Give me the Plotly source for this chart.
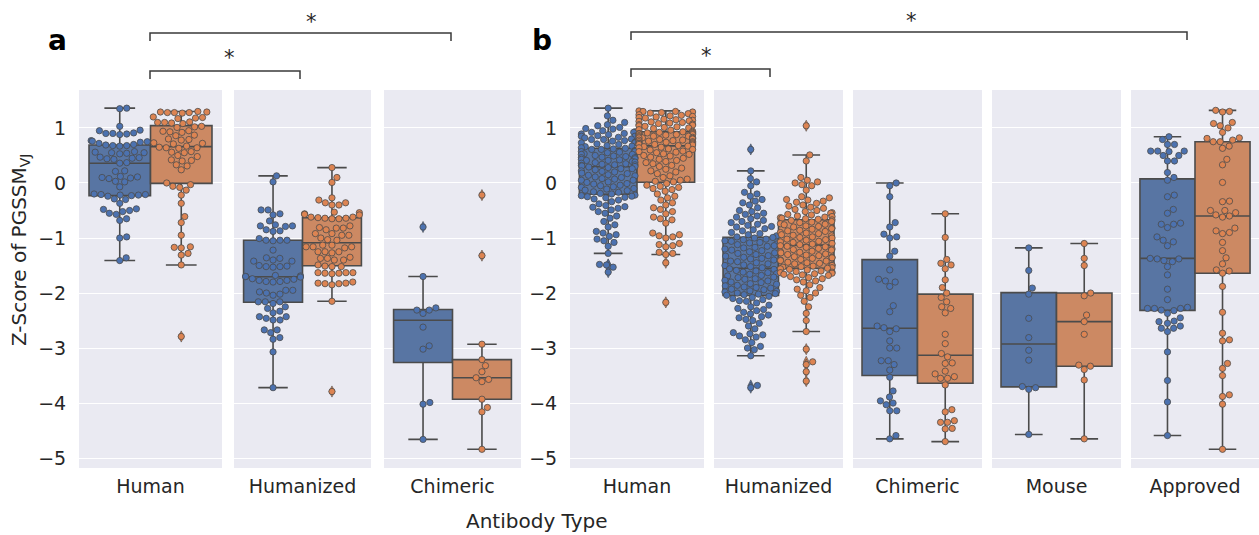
import numpy as np
import plotly.graph_objects as go

# ---------------- data ----------------
types_a = ["Human", "Humanized", "Chimeric"]
types_b = ["Human", "Humanized", "Chimeric", "Mouse", "Approved"]
y_ticks = [-5, -4, -3, -2, -1, 0, 1]
y_ticktext = ["\u22125", "\u22124", "\u22123", "\u22122", "\u22121", "0", "1"]

a_human_1 = [1.36, 1.35, 1.03, 0.96, 0.95, 0.91, 0.90, 0.90, 0.89, 0.88, 0.77, 0.76, 0.75, 0.74, 0.72,
             0.70, 0.69, 0.68, 0.68, 0.67, 0.57, 0.56, 0.55, 0.54, 0.53, 0.55, 0.46, 0.45, 0.44, 0.43,
             0.47, 0.37, 0.36, 0.22, 0.21, 0.12, 0.10, 0.09, 0.08, 0.11, 0.03, 0.02, -0.07, -0.20, -0.21,
             -0.22, -0.23, -0.24, -0.21, -0.29, -0.30, -0.37, -0.22, -0.47, -0.50, -0.52, -0.48, -0.55,
             -0.57, -0.65, -0.68, -0.98, -1.00, -1.36, -1.41]
a_human_2 = [1.29, 1.28, 1.28, 1.27, 1.28, 1.29, 1.30, 1.20, 1.19, 1.18, 1.17, 1.10, 1.11, 1.09, 1.10,
             1.08, 1.03, 1.02, 1.01, 0.95, 0.94, 0.93, 0.92, 0.87, 0.86, 0.80, 0.79, 0.78, 0.73, 0.72,
             0.71, 0.67, 0.65, 0.64, 0.63, 0.64, 0.57, 0.56, 0.55, 0.50, 0.48, 0.42, 0.41, 0.40, 0.33,
             0.31, 0.24, 0.00, -0.03, -0.06, -0.08, -0.13, -0.22, -0.37, -0.61, -0.72, -0.95, -1.16,
             -1.17, -1.18, -1.28, -1.31, -1.49, -2.79]
a_humanized_1 = [0.13, 0.02, -0.49, -0.49, -0.56, -0.58, -0.69, -0.76, -0.78, -0.78, -0.79, -0.85, -0.87,
                 -0.88, -1.01, -1.04, -1.04, -1.04, -1.05, -1.22, -1.36, -1.37, -1.40, -1.42, -1.42, -1.50,
                 -1.51, -1.52, -1.52, -1.53, -1.68, -1.69, -1.70, -1.70, -1.71, -1.74, -1.75, -1.77, -1.77,
                 -1.79, -1.79, -1.80, -1.95, -1.95, -1.98, -2.00, -2.02, -2.04, -2.16, -2.16, -2.16, -2.19,
                 -2.25, -2.28, -2.33, -2.36, -2.43, -2.43, -2.46, -2.49, -2.49, -2.67, -2.67, -2.72, -2.81,
                 -2.84, -3.07, -3.72]
a_humanized_2 = [0.28, 0.10, 0.01, -0.27, -0.31, -0.36, -0.36, -0.40, -0.40, -0.53, -0.54, -0.56, -0.57,
                 -0.62, -0.62, -0.64, -0.64, -0.65, -0.65, -0.63, -0.58, -0.81, -0.82, -0.85, -0.82, -0.78,
                 -0.92, -0.92, -0.95, -0.95, -1.04, -1.03, -1.00, -1.13, -1.16, -1.16, -1.18, -1.16, -1.13,
                 -1.25, -1.27, -1.25, -1.25, -1.37, -1.37, -1.40, -1.40, -1.35, -1.51, -1.52, -1.52, -1.49,
                 -1.63, -1.64, -1.65, -1.63, -1.64, -1.63, -1.80, -1.83, -1.85, -1.83, -1.82, -1.82, -2.15,
                 -3.79]
a_chimeric_1 = [-0.80, -1.70, -2.27, -2.31, -2.31, -2.37, -2.62, -2.96, -3.02, -3.99, -4.02, -4.66]
a_chimeric_2 = [-0.22, -1.32, -2.93, -3.21, -3.32, -3.43, -3.54, -3.57, -3.61, -3.93, -4.08, -4.16, -4.84]

b_human_1 = [1.36, 1.22, 1.14, 1.10, 1.06, 1.04, 1.01, 0.99, 0.98, 0.95, 0.93, 0.92, 0.92, 0.90, 0.89,
             0.88, 0.86, 0.85, 0.85, 0.83, 0.82, 0.80, 0.79, 0.79, 0.77, 0.76, 0.74, 0.73, 0.73, 0.71,
             0.70, 0.68, 0.67, 0.66, 0.64,
             0.63, 0.62, 0.61, 0.61, 0.59, 0.58, 0.57, 0.57, 0.56, 0.55, 0.53, 0.52, 0.52, 0.50, 0.49,
             0.48, 0.47, 0.46, 0.46, 0.44, 0.43, 0.42, 0.41, 0.41, 0.39, 0.38, 0.37, 0.36, 0.35, 0.34,
             0.33, 0.33, 0.32, 0.31, 0.30,
             0.29, 0.28, 0.26, 0.26, 0.24, 0.22, 0.21, 0.20, 0.18, 0.17, 0.15, 0.14, 0.13, 0.11, 0.10,
             0.08, 0.07, 0.05, 0.05, 0.02, 0.01, -0.01, -0.02, -0.04, -0.05, -0.07, -0.08, -0.10, -0.11,
             -0.13, -0.14, -0.16, -0.17, -0.19, -0.20,
             -0.22, -0.23, -0.24, -0.25, -0.26, -0.27, -0.29, -0.31, -0.34, -0.38, -0.41, -0.43, -0.44,
             -0.46, -0.49, -0.52, -0.55, -0.60, -0.64, -0.70, -0.76, -0.80, -0.88, -0.91, -0.94, -0.97,
             -1.02, -1.05, -1.08, -1.15, -1.28, -1.48, -1.49, -1.53, -1.62]
b_human_2 = [1.31, 1.30, 1.30, 1.29, 1.28, 1.27, 1.26, 1.24, 1.23, 1.22, 1.21, 1.20, 1.19, 1.18, 1.16,
             1.15, 1.14, 1.13, 1.12, 1.11, 1.10, 1.09, 1.08, 1.07, 1.06, 1.05, 1.04, 1.03, 1.02, 1.01,
             1.00, 0.99, 0.97, 0.96, 0.94,
             0.93, 0.92, 0.92, 0.91, 0.90, 0.90, 0.89, 0.88, 0.88, 0.87, 0.86, 0.85, 0.85, 0.84, 0.83,
             0.82, 0.82, 0.81, 0.80, 0.79, 0.78, 0.78, 0.77, 0.76, 0.75, 0.75, 0.74, 0.73, 0.72, 0.72,
             0.71, 0.70, 0.70, 0.69, 0.68,
             0.67, 0.66, 0.65, 0.64, 0.62, 0.61, 0.60, 0.58, 0.57, 0.56, 0.55, 0.53, 0.52, 0.50, 0.49,
             0.47, 0.45, 0.43, 0.41, 0.39, 0.37, 0.35, 0.32, 0.30, 0.27, 0.25, 0.22, 0.20, 0.17, 0.13,
             0.10, 0.07, 0.05, 0.03, 0.02,
             -0.01, -0.04, -0.06, -0.08, -0.10, -0.12, -0.15, -0.20, -0.24, -0.27, -0.31, -0.36, -0.40,
             -0.45, -0.48, -0.52, -0.56, -0.62, -0.65, -0.67, -0.73, -0.91, -0.94, -0.96, -0.98, -1.00,
             -1.10, -1.12, -1.14, -1.16, -1.26, -1.28, -1.30, -1.45, -2.17]
b_humanized_1 = [0.61, 0.22, 0.08, 0.02, -0.05, -0.17, -0.20, -0.24, -0.30, -0.33, -0.36, -0.40, -0.45,
                 -0.50, -0.52, -0.55, -0.57, -0.60, -0.62, -0.65, -0.68, -0.70, -0.72, -0.75, -0.77, -0.79,
                 -0.80, -0.83, -0.85, -0.87, -0.90, -0.92, -0.94, -0.96, -0.98,
                 -0.99, -1.00, -1.02, -1.03, -1.05, -1.06, -1.08, -1.09, -1.11, -1.12, -1.14, -1.15, -1.17,
                 -1.18, -1.20, -1.22, -1.23, -1.25, -1.27, -1.28, -1.30, -1.32, -1.33, -1.35, -1.37, -1.38,
                 -1.40, -1.42, -1.43, -1.45, -1.47, -1.49, -1.50, -1.52, -1.54,
                 -1.56, -1.57, -1.59, -1.60, -1.62, -1.63, -1.65, -1.66, -1.68, -1.69, -1.71, -1.72, -1.74,
                 -1.75, -1.77, -1.78, -1.80, -1.81, -1.83, -1.84, -1.86, -1.87, -1.89, -1.90, -1.91, -1.93,
                 -1.94, -1.96, -1.97, -1.98, -2.00, -2.01, -2.02, -2.03, -2.04,
                 -2.06, -2.08, -2.10, -2.12, -2.14, -2.15, -2.18, -2.22, -2.25, -2.28, -2.30, -2.32, -2.35,
                 -2.38, -2.40, -2.43, -2.45, -2.48, -2.50, -2.55, -2.60, -2.65, -2.72, -2.74, -2.76, -2.78,
                 -2.80, -2.85, -2.90, -2.97, -3.00, -3.03, -3.14, -3.68, -3.72]
b_humanized_2 = [1.04, 0.51, 0.40, 0.10, 0.05, 0.02, 0.00, -0.03, -0.05, -0.13, -0.25, -0.27, -0.30,
                 -0.31, -0.33, -0.35, -0.37, -0.40, -0.42, -0.44, -0.46, -0.48, -0.50, -0.52, -0.54, -0.55,
                 -0.57, -0.58, -0.60, -0.61, -0.62, -0.63, -0.64, -0.65, -0.66,
                 -0.67, -0.68, -0.70, -0.71, -0.72, -0.74, -0.75, -0.76, -0.78, -0.79, -0.80, -0.82, -0.83,
                 -0.84, -0.86, -0.87, -0.88, -0.90, -0.91, -0.92, -0.94, -0.95, -0.96, -0.98, -0.99, -1.00,
                 -1.02, -1.03, -1.04, -1.06, -1.07, -1.08, -1.10, -1.11, -1.12,
                 -1.14, -1.15, -1.16, -1.17, -1.19, -1.20, -1.21, -1.22, -1.24, -1.25, -1.26, -1.27, -1.29,
                 -1.30, -1.31, -1.32, -1.34, -1.35, -1.36, -1.37, -1.39, -1.40, -1.41, -1.42, -1.44, -1.45,
                 -1.46, -1.47, -1.49, -1.50, -1.51, -1.52, -1.53, -1.54, -1.55,
                 -1.56, -1.57, -1.58, -1.60, -1.61, -1.62, -1.63, -1.64, -1.65, -1.66, -1.67, -1.68, -1.70,
                 -1.72, -1.74, -1.76, -1.78, -1.80, -1.85, -1.90, -1.93, -1.96, -2.00, -2.04, -2.08, -2.15,
                 -2.25, -2.37, -2.50, -2.70, -3.02, -3.25, -3.30, -3.43, -3.60]
b_chimeric_1 = [0.00, -0.05, -0.25, -0.72, -0.80, -0.93, -0.98, -1.00, -1.24, -1.33, -1.58, -1.75, -1.78,
                -1.80, -1.88, -2.23, -2.34, -2.60, -2.63, -2.65, -2.70, -2.87, -3.00, -3.00, -3.23, -3.23,
                -3.30, -3.40, -3.53, -3.78, -3.89, -3.96, -4.00, -4.03, -4.14, -4.14, -4.59, -4.65]
b_chimeric_2 = [-0.56, -0.99, -1.39, -1.46, -1.49, -1.56, -1.76, -1.90, -2.00, -2.08, -2.16, -2.25, -2.28,
                -2.36, -2.75, -2.92, -3.10, -3.16, -3.27, -3.28, -3.42, -3.47, -3.52, -3.55, -3.55, -3.67,
                -4.12, -4.16, -4.32, -4.35, -4.35, -4.46, -4.47, -4.70]
b_mouse_1 = [-1.18, -1.59, -1.91, -2.02, -2.46, -2.81, -3.04, -3.22, -3.70, -3.72, -3.75, -4.57]
b_mouse_2 = [-1.10, -1.37, -1.50, -2.00, -2.05, -2.40, -2.52, -2.75, -3.31, -3.33, -3.39, -3.58, -4.65]
b_approved_1 = [0.84, 0.79, 0.70, 0.70, 0.58, 0.58, 0.57, 0.58, 0.50, 0.50, 0.40, 0.40, 0.19, 0.10, 0.05,
                -0.22, -0.25, -0.48, -0.55, -0.75, -0.81, -0.75, -0.73, -0.98, -1.07, -1.14, -1.04, -1.38,
                -1.43, -1.41, -1.38, -1.37, -1.52, -1.67, -1.93, -2.12, -2.28, -2.31, -2.26, -2.32, -2.28,
                -2.28, -2.37, -2.45, -2.55, -2.64, -2.64, -2.60, -2.51, -2.52, -2.70, -3.07, -3.59, -3.98,
                -4.59]
b_approved_2 = [1.32, 1.29, 1.30, 1.10, 1.08, 1.00, 1.04, 0.92, 0.81, 0.78, 0.75, 0.75, 0.82, 0.67, 0.63,
                0.43, 0.33, 0.01, -0.33, -0.34, -0.54, -0.60, -0.50, -0.58, -0.50, -0.62, -0.87, -0.92,
                -0.90, -0.82, -1.08, -1.23, -1.36, -1.47, -1.60, -1.64, -1.58, -1.88, -2.35, -2.73, -2.85,
                -2.87, -3.28, -3.37, -3.50, -3.85, -3.88, -4.02, -4.84]

groups_a = [(a_human_1, a_human_2), (a_humanized_1, a_humanized_2), (a_chimeric_1, a_chimeric_2)]
groups_b = [(b_human_1, b_human_2), (b_humanized_1, b_humanized_2), (b_chimeric_1, b_chimeric_2),
            (b_mouse_1, b_mouse_2), (b_approved_1, b_approved_2)]

# ---------------- layout / style ----------------
W, H = 1259, 535
cols_px = [(79, 222), (234, 371), (384, 521), (570, 704), (714, 843), (853, 982), (992, 1121), (1131, 1259)]
top_px, bot_px = 90, 468
y_range = [-5.18, 1.69]
hue_color = ["#4C72B0", "#DD8452"]
box_fill = ["#5875A3", "#CC8963"]
line_gray = "#4b4b4b"
bg = "#EAEAF2"
txt = "#262626"
FONT = "DejaVu Sans"
dodge = 0.215
box_w = 0.43
dot = 7.0

px_per_y = (bot_px - top_px) / (y_range[1] - y_range[0])


def box_stats(values):
    v = np.asarray(values, dtype=float)
    q1, med, q3 = np.percentile(v, [25, 50, 75])
    iqr = q3 - q1
    inside = v[(v >= q1 - 1.5 * iqr) & (v <= q3 + 1.5 * iqr)]
    outl = v[(v < q1 - 1.5 * iqr) | (v > q3 + 1.5 * iqr)]
    return q1, med, q3, inside.min(), inside.max(), outl


def swarm_offsets(values, px_per_x, half_px):
    vals = np.asarray(values, dtype=float)
    order = np.argsort(vals, kind="stable")
    placed = []
    offs = np.zeros(len(vals))
    for i in order:
        y = vals[i] * px_per_y
        neigh = [(py, px) for (py, px) in placed if abs(py - y) < dot]
        cands = [0.0]
        for py, px in neigh:
            dx = np.sqrt(dot ** 2 - (py - y) ** 2)
            cands += [px + dx, px - dx]
        cands.sort(key=abs)
        chosen = cands[-1]
        for c in cands:
            if all((c - px) ** 2 + (y - py) ** 2 >= dot ** 2 - 1e-6 for py, px in neigh):
                chosen = c
                break
        placed.append((y, chosen))
        offs[i] = chosen
    offs = np.clip(offs, -half_px, half_px)
    return offs / px_per_x


fig = go.Figure()
labels = types_a + types_b
groups = groups_a + groups_b
layout_axes = {}
for k, ((l, r), lab, pair) in enumerate(zip(cols_px, labels, groups)):
    sfx = "" if k == 0 else str(k + 1)
    xa, ya = "x" + sfx, "y" + sfx
    px_per_x = (r - l) / 1.0
    for h, vals in enumerate(pair):
        pos = -dodge if h == 0 else dodge
        q1, med, q3, lo, hi, outl = box_stats(vals)
        fig.add_trace(go.Box(
            x=[pos], q1=[q1], median=[med], q3=[q3], lowerfence=[lo], upperfence=[hi],
            width=box_w, xaxis=xa, yaxis=ya,
            fillcolor=box_fill[h], line=dict(color=line_gray, width=1.6),
            whiskerwidth=0.5, boxpoints=False, showlegend=False, hoverinfo="skip"))
        if len(outl):
            fig.add_trace(go.Scatter(
                x=[pos] * len(outl), y=outl, mode="markers", xaxis=xa, yaxis=ya,
                marker=dict(symbol="diamond-tall", size=8, color=hue_color[h],
                            line=dict(color=line_gray, width=0.6)),
                showlegend=False, hoverinfo="skip"))
    for h, vals in enumerate(pair):
        pos = -dodge if h == 0 else dodge
        offs = swarm_offsets(vals, px_per_x, 0.2 * px_per_x)
        fig.add_trace(go.Scatter(
            x=pos + offs, y=vals, mode="markers", xaxis=xa, yaxis=ya,
            marker=dict(size=6.3, color=hue_color[h], line=dict(color=line_gray, width=0.8)),
            showlegend=False, hoverinfo="skip"))
    show_y = k in (0, 3)
    layout_axes["xaxis" + sfx] = dict(
        domain=[l / W, r / W], range=[-0.5, 0.5], anchor=ya, tickvals=[0], ticktext=[lab],
        showgrid=False, zeroline=False, showline=False, ticks="outside", ticklen=1,
        tickcolor="rgba(0,0,0,0)", tickfont=dict(family=FONT, size=19, color=txt), automargin=False)
    layout_axes["yaxis" + sfx] = dict(
        domain=[1 - bot_px / H, 1 - top_px / H], range=y_range, anchor=xa,
        tickvals=y_ticks, ticktext=y_ticktext, showticklabels=show_y,
        showgrid=True, gridcolor="white", gridwidth=1, zeroline=False, showline=False,
        ticks="outside" if show_y else "", ticklen=8, tickcolor="rgba(0,0,0,0)",
        tickfont=dict(family=FONT, size=19, color=txt), automargin=False)

shapes = []
for k, (l, r) in enumerate(cols_px):
    shapes.append(dict(type="rect", xref="paper", yref="paper", x0=l / W, x1=r / W,
                       y0=1 - bot_px / H, y1=1 - top_px / H, fillcolor=bg, line=dict(width=0),
                       layer="below"))


def bracket(x0, x1, ypx, drop=8):
    return dict(type="path", xref="paper", yref="paper",
                path=f"M {x0 / W},{1 - (ypx + drop) / H} L {x0 / W},{1 - ypx / H} "
                     f"L {x1 / W},{1 - ypx / H} L {x1 / W},{1 - (ypx + drop) / H}",
                line=dict(color="#3a3a3a", width=1.5))


shapes += [bracket(150, 300, 71), bracket(150, 451, 33), bracket(631, 770, 69), bracket(631, 1187, 32)]

ann = []
def add_text(text, xpx, ypx, size, angle=0, bold=False):
    ann.append(dict(text=f"<b>{text}</b>" if bold else text, x=xpx / W, y=1 - ypx / H,
                    xref="paper", yref="paper", showarrow=False, textangle=angle,
                    xanchor="center", yanchor="middle",
                    font=dict(family=FONT, size=size, color="black" if bold else txt)))

add_text("a", 57, 40, 28, bold=True)
add_text("b", 542, 40, 28, bold=True)
add_text("*", 229, 58, 21)
add_text("*", 311, 22, 21)
add_text("*", 706, 56, 21)
add_text("*", 911, 21, 21)
add_text("Z-Score of PGSSM<sub>VJ</sub>", 20, 250, 20, angle=-90)
add_text("Antibody Type", 537, 521, 20)

fig.update_layout(width=W, height=H, margin=dict(l=0, r=0, t=0, b=0),
                  paper_bgcolor="white", plot_bgcolor="rgba(0,0,0,0)",
                  shapes=shapes, annotations=ann, **layout_axes)
fig.write_html("out.html", config={"displayModeBar": False},
               post_script="document.body.style.margin='0px';")
